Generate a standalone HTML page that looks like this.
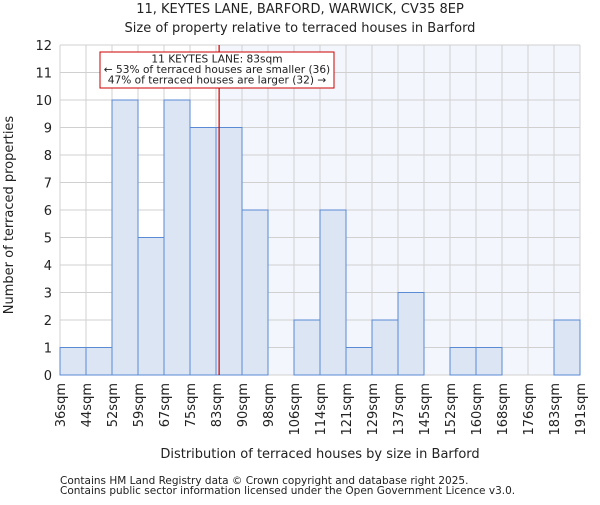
<!DOCTYPE html>
<html><head><meta charset="utf-8"><style>
body{margin:0;background:#fff;font-family:"Liberation Sans","DejaVu Sans",sans-serif}
svg text{font-family:"DejaVu Sans","Liberation Sans",sans-serif;fill:#222}
</style></head><body>
<svg id="chart" width="600" height="500" xmlns="http://www.w3.org/2000/svg">
<text x="300" y="13" text-anchor="middle" font-size="13">11, KEYTES LANE, BARFORD, WARWICK, CV35 8EP</text>
<text x="300" y="32" text-anchor="middle" font-size="13">Size of property relative to terraced houses in Barford</text>
<g id="plot"></g>
<text x="320" y="458" text-anchor="middle" font-size="13">Distribution of terraced houses by size in Barford</text>
<text transform="translate(13,215) rotate(-90)" text-anchor="middle" font-size="13">Number of terraced properties</text>
<text x="60" y="484" font-size="10.5">Contains HM Land Registry data © Crown copyright and database right 2025.</text>
<text x="60" y="494" font-size="10.5">Contains public sector information licensed under the Open Government Licence v3.0.</text>
</svg>
<script>
const categories=["36sqm","44sqm","52sqm","59sqm","67sqm","75sqm","83sqm","90sqm","98sqm","106sqm","114sqm","121sqm","129sqm","137sqm","145sqm","152sqm","160sqm","168sqm","176sqm","183sqm","191sqm"];
const counts=[1,1,10,5,10,9,9,6,0,2,6,1,2,3,0,1,1,0,0,2];
const yTicks=[0,1,2,3,4,5,6,7,8,9,10,11,12];
const markerBin=6.12;
const NS="http://www.w3.org/2000/svg";
const L=60,R=580,T=45,B=375,yMax=12;
const n=counts.length,bw=(R-L)/n;
const xs=i=>L+i*bw, ys=v=>B-v/yMax*(B-T);
const g=document.getElementById('plot');
function mk(t,a){const e=document.createElementNS(NS,t);for(const k in a)e.setAttribute(k,a[k]);g.appendChild(e);return e;}
const mx=xs(markerBin);
let e=mk('rect',{x:mx,y:T,width:R-mx,height:B-T,fill:'#f4f6fd'});


for(const t of yTicks){
 e=mk('line',{x1:L,x2:R,y1:ys(t),y2:ys(t),stroke:'#d0d0d0','stroke-width':1});
 
 
 e=mk('text',{x:L-8,y:ys(t)+5,'text-anchor':'end','font-size':13});e.textContent=t;
 
 
}
for(let i=0;i<=n;i++){
 e=mk('line',{x1:xs(i),x2:xs(i),y1:T,y2:B,stroke:'#d0d0d0','stroke-width':1});
 
 
 const x=xs(i),y=B+8;
 e=mk('text',{x:x+5,y:y,'text-anchor':'end','font-size':13,transform:`rotate(-90 ${x+5} ${y})`});e.textContent=categories[i];
 
 
}
counts.forEach((v,i)=>{
 if(v<=0)return;
 const b=mk('rect',{x:xs(i),y:ys(v),width:bw,height:ys(0)-ys(v),fill:'#dce5f4',stroke:'#5a8ad4','stroke-width':1});
 
 
});
e=mk('line',{x1:mx,x2:mx,y1:T,y2:B,stroke:'#c00','stroke-width':1.2});


e=mk('rect',{x:100,y:52,width:234,height:36,fill:'#fff',stroke:'#c00','stroke-width':1});


["11 KEYTES LANE: 83sqm","← 53% of terraced houses are smaller (36)","47% of terraced houses are larger (32) →"].forEach((s,k)=>{
 const t=mk('text',{x:217,y:62.5+k*10.5,'text-anchor':'middle','font-size':10.6});t.textContent=s;
 
 
});
</script>
</body></html>
